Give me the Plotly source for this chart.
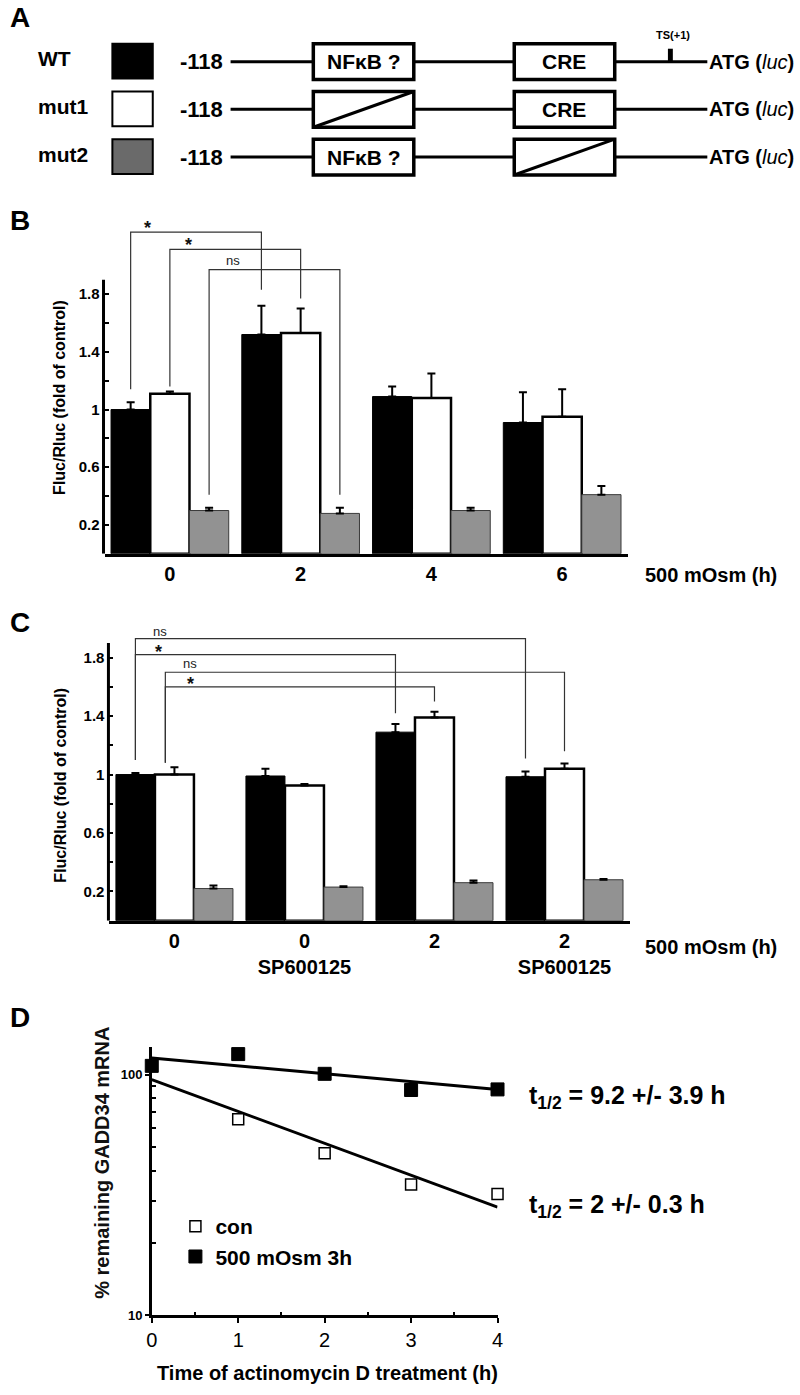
import plotly.graph_objects as go

# ---------------- data ----------------
groups_B = ["0", "2", "4", "6"]
wt_B = [1.00, 1.52, 1.09, 0.91]
wt_B_err = [0.05, 0.20, 0.07, 0.21]
mut1_B = [1.11, 1.53, 1.08, 0.95]
mut1_B_err = [0.015, 0.17, 0.17, 0.19]
mut2_B = [0.30, 0.28, 0.30, 0.41]
mut2_B_err = [0.02, 0.04, 0.02, 0.06]

groups_C = ["0", "0<br>SP600125", "2", "2<br>SP600125"]
wt_C = [1.00, 0.99, 1.29, 0.985]
wt_C_err = [0.01, 0.05, 0.055, 0.035]
mut1_C = [1.00, 0.925, 1.39, 1.04]
mut1_C_err = [0.05, 0.01, 0.04, 0.035]
mut2_C = [0.22, 0.23, 0.26, 0.28]
mut2_C_err = [0.02, 0.005, 0.015, 0.005]

bar_ticks = [0.2, 0.6, 1.0, 1.4, 1.8]
bar_ticktext = ["0.2", "0.6", "1", "1.4", "1.8"]
bar_minor = [0.4, 0.8, 1.2, 1.6]

time_con = [1, 2, 3, 4]
con = [65.4, 47.2, 35.0, 32.0]
time_osm = [0, 1, 2, 3, 4]
osm = [109, 122, 101, 86.5, 87]
fit_time = [0, 4]
fit_con = [95.6, 28.2]
fit_osm = [117.5, 87]
time_ticks = [0, 1, 2, 3, 4]
time_minor = [0.5, 1.5, 2.5, 3.5]
pct_ticks = [10, 100]
pct_minor = [20, 30, 40, 50, 60, 70, 80, 90]

# significance brackets: (left x, right x, top y, left-bottom y, right-bottom y, label, label x, label y)
brackets_B = [
    (-0.3, 0.7, 2.23, 1.14, 1.83, "*", -0.17, 2.26),
    (0.0, 1.0, 2.11, 1.16, 1.77, "*", 0.14, 2.14),
    (0.3, 1.3, 1.97, 0.41, 0.41, "ns", 0.48, 2.03),
]
brackets_C = [
    (-0.3, 2.7, 1.93, 1.10, 1.11, "ns", -0.11, 1.98),
    (-0.3, 1.7, 1.82, 1.10, 1.42, "*", -0.12, 1.84),
    (-0.07, 3.0, 1.70, 1.08, 1.16, "ns", 0.12, 1.76),
    (-0.07, 2.0, 1.60, 1.08, 1.50, "*", 0.12, 1.62),
]

# ---------------- helpers ----------------
W, H = 800, 1395
FONT = "Liberation Sans, Arial, Helvetica, sans-serif"


def X(px):
    return px / W


def Y(py):
    return 1 - py / H


BLACK = "#000000"
GRAY_BAR = "#929292"
GRAY_A = "#6a6a6a"

fig = go.Figure()


def add_bars(xa, ya, wt, wte, m1, m1e, m2, m2e):
    xs = list(range(len(wt)))
    common = dict(xaxis=xa, yaxis=ya, showlegend=False, hoverinfo="skip")
    fig.add_trace(go.Bar(x=xs, y=wt, marker=dict(color=BLACK, line=dict(color=BLACK, width=1)),
                         error_y=dict(type="data", symmetric=False, array=wte, arrayminus=[0] * len(wt),
                                      color=BLACK, thickness=2, width=4), **common))
    fig.add_trace(go.Bar(x=xs, y=m1, marker=dict(color="white", line=dict(color=BLACK, width=2.5)),
                         error_y=dict(type="data", symmetric=False, array=m1e, arrayminus=[0] * len(m1),
                                      color=BLACK, thickness=2, width=4), **common))
    fig.add_trace(go.Bar(x=xs, y=m2, marker=dict(color=GRAY_BAR, line=dict(color="#3a3a3a", width=1)),
                         error_y=dict(type="data", symmetric=False, array=m2e, arrayminus=[0] * len(m2),
                                      color=BLACK, thickness=2, width=4), **common))


add_bars("x", "y", wt_B, wt_B_err, mut1_B, mut1_B_err, mut2_B, mut2_B_err)
add_bars("x2", "y2", wt_C, wt_C_err, mut1_C, mut1_C_err, mut2_C, mut2_C_err)

# panel D
fig.add_trace(go.Scatter(x=fit_time, y=fit_con, mode="lines", line=dict(color=BLACK, width=3),
                         xaxis="x3", yaxis="y3", showlegend=False, hoverinfo="skip"))
fig.add_trace(go.Scatter(x=fit_time, y=fit_osm, mode="lines", line=dict(color=BLACK, width=3),
                         xaxis="x3", yaxis="y3", showlegend=False, hoverinfo="skip"))
fig.add_trace(go.Scatter(x=time_con, y=con, mode="markers", name="con",
                         marker=dict(symbol="square", size=11, color="white", line=dict(color=BLACK, width=1.5)),
                         xaxis="x3", yaxis="y3", cliponaxis=False))
fig.add_trace(go.Scatter(x=time_osm, y=osm, mode="markers", name="500 mOsm 3h",
                         marker=dict(symbol="square", size=13, color=BLACK, line=dict(color=BLACK, width=1)),
                         xaxis="x3", yaxis="y3", cliponaxis=False))

shapes = []
annotations = []


def ann(text, x, y, size, xanchor="center", yanchor="middle", angle=0, color=BLACK, xref="paper", yref="paper"):
    annotations.append(dict(text=text, x=x, y=y, xref=xref, yref=yref, showarrow=False,
                            xanchor=xanchor, yanchor=yanchor, textangle=angle, borderpad=0,
                            font=dict(family=FONT, size=size, color=color)))


# ---------------- panel A ----------------
rows = [("WT", BLACK, False, False, True), ("mut1", "white", True, False, False), ("mut2", GRAY_A, False, True, False)]
row_y = [62, 110, 158]
for (name, col, cross_nf, cross_cre, ts), yy in zip(rows, row_y):
    ann("<b>%s</b>" % name, X(31), Y(yy - 3), 21, xanchor="left")
    shapes.append(dict(type="rect", xref="paper", yref="paper", x0=X(108), x1=X(149), y0=Y(yy - 18), y1=Y(yy + 17),
                       fillcolor=col, line=dict(color=BLACK, width=2)))
    ann("<b>-118</b>", X(221), Y(yy), 22, xanchor="right")
    shapes.append(dict(type="line", xref="paper", yref="paper", x0=X(228), x1=X(712), y0=Y(yy), y1=Y(yy),
                       line=dict(color=BLACK, width=3)))
    for (bx0, bx1, label, cross) in [(312, 414, "NF\u03baB ?", cross_nf), (516, 618, "CRE", cross_cre)]:
        shapes.append(dict(type="rect", xref="paper", yref="paper", x0=X(bx0), x1=X(bx1), y0=Y(yy - 18), y1=Y(yy + 18),
                           fillcolor="white", line=dict(color=BLACK, width=3.5)))
        if cross:
            shapes.append(dict(type="line", xref="paper", yref="paper", x0=X(bx0), x1=X(bx1), y0=Y(yy + 18),
                               y1=Y(yy - 18), line=dict(color=BLACK, width=3)))
        else:
            ann("<b>%s</b>" % label, X((bx0 + bx1) / 2), Y(yy), 21)
    if ts:
        shapes.append(dict(type="rect", xref="paper", yref="paper", x0=X(672), x1=X(677), y0=Y(49), y1=Y(yy),
                           fillcolor=BLACK, line=dict(width=0)))
        ann("<b>TS(+1)</b>", X(677), Y(35), 11)
    ann("<b>ATG (</b><i>luc</i><b>)</b>", X(713), Y(yy), 20, xanchor="left")

# panel letters
ann("<b>A</b>", X(3), Y(18), 28, xanchor="left")
ann("<b>B</b>", X(3), Y(222), 28, xanchor="left")
ann("<b>C</b>", X(3), Y(626), 28, xanchor="left")
ann("<b>D</b>", X(3), Y(1023), 28, xanchor="left")

# ---------------- bar panels: y axis lines, brackets, labels ----------------
for xr, yr, axx, br in [("x", "y", 99, brackets_B), ("x2", "y2", 104, brackets_C)]:
    shapes.append(dict(type="line", xref="paper", yref=yr, x0=X(axx), x1=X(axx), y0=0, y1=1.9,
                       line=dict(color=BLACK, width=3)))
    for (xl, xrr, yt, ybl, ybr, lab, lx, ly) in br:
        shapes.append(dict(type="path", xref=xr, yref=yr,
                           path="M %f,%f L %f,%f L %f,%f L %f,%f" % (xl, ybl, xl, yt, xrr, yt, xrr, ybr),
                           line=dict(color="#333333", width=1.2)))
        if lab == "*":
            ann("<b>*</b>", lx, ly, 18, xref=xr, yref=yr, color="#111111")
        else:
            ann(lab, lx, ly, 13, xref=xr, yref=yr, color="#222222")

ann("<b>Fluc/Rluc (fold of control)</b>", X(55), Y(400), 16, angle=-90)
ann("<b>Fluc/Rluc (fold of control)</b>", X(55), Y(790), 16, angle=-90)
ann("<b>500 mOsm (h)</b>", X(648), Y(578), 20, xanchor="left")
ann("<b>500 mOsm (h)</b>", X(648), Y(952), 20, xanchor="left")

# ---------------- panel D labels ----------------
ann("<b>% remaining GADD34 mRNA</b>", X(98), Y(1170), 20, angle=-90, color="#111111")
ann("<b>Time of actinomycin D treatment (h)</b>", X(326), Y(1381), 20)
ann("<b>t<sub>1/2</sub> = 9.2 +/- 3.9 h</b>", X(530), Y(1103), 25, xanchor="left")
ann("<b>t<sub>1/2</sub> = 2 +/- 0.3 h</b>", X(530), Y(1213), 25, xanchor="left")

tickfont_bar_x = dict(family=FONT, size=20, color=BLACK)
tickfont_bar_y = dict(family=FONT, size=15, color=BLACK)


def bar_xaxis(domain, ticktext):
    return dict(domain=domain, range=[-0.5, 3.5], tickmode="array", tickvals=[0, 1, 2, 3],
                ticktext=["<b>%s</b>" % t for t in ticktext], tickfont=tickfont_bar_x, showgrid=False,
                zeroline=False, showline=True, linecolor=BLACK, linewidth=3, ticks="", fixedrange=True)


def bar_yaxis(domain, rng, anchor):
    return dict(domain=domain, range=rng, anchor=anchor, tickmode="array", tickvals=bar_ticks,
                ticktext=["<b>%s</b>" % t for t in bar_ticktext], tickfont=tickfont_bar_y,
                showgrid=False, zeroline=False, showline=False, ticks="inside", ticklen=4, tickwidth=2,
                tickcolor=BLACK, ticklabelstandoff=4,
                minor=dict(tickmode="array", tickvals=bar_minor, ticks="inside", ticklen=4,
                           tickwidth=2, tickcolor=BLACK), fixedrange=True)


fig.update_layout(
    width=W, height=H, margin=dict(l=0, r=0, t=0, b=0),
    paper_bgcolor="white", plot_bgcolor="white",
    barmode="group", bargap=0.1, bargroupgap=0,
    font=dict(family=FONT, color=BLACK),
    xaxis=dict(bar_xaxis([X(100), X(631)], groups_B), anchor="y"),
    yaxis=bar_yaxis([Y(557), Y(216)], [0, 2.35], "x"),
    xaxis2=dict(bar_xaxis([X(105), X(633)], groups_C), anchor="y2"),
    yaxis2=bar_yaxis([Y(926), Y(632)], [0, 2.0], "x2"),
    xaxis3=dict(domain=[X(148), X(499)], range=[0, 4], anchor="y3", tickmode="array", tickvals=time_ticks,
                tickfont=dict(family=FONT, size=20, color=BLACK), showgrid=False, zeroline=False,
                showline=True, linecolor=BLACK, linewidth=2.5, ticks="outside", ticklen=5, tickwidth=2,
                tickcolor=BLACK,
                minor=dict(tickmode="array", tickvals=time_minor, ticks="inside", ticklen=4, tickwidth=2,
                           tickcolor=BLACK), fixedrange=True),
    yaxis3=dict(domain=[Y(1323), Y(1053)], type="log", range=[1, 2.116], anchor="x3", tickmode="array",
                tickvals=pct_ticks, ticktext=["<b>10</b>", "<b>100</b>"],
                tickfont=dict(family=FONT, size=13, color=BLACK), showgrid=False, zeroline=False,
                showline=True, linecolor=BLACK, linewidth=2.5, ticks="outside", ticklen=4, tickwidth=2,
                tickcolor=BLACK,
                minor=dict(tickmode="array", tickvals=pct_minor, ticks="inside", ticklen=4, tickwidth=1.5,
                           tickcolor=BLACK), fixedrange=True),
    showlegend=True,
    legend=dict(x=X(172), y=Y(1213), xanchor="left", yanchor="top", bgcolor="rgba(0,0,0,0)",
                font=dict(family=FONT, size=21, color=BLACK, weight="bold"), tracegroupgap=0),
    shapes=shapes, annotations=annotations,
)

fig.write_html("out.html", config={"displayModeBar": False},
               post_script="document.body.style.margin='0';document.body.style.overflow='hidden';")
